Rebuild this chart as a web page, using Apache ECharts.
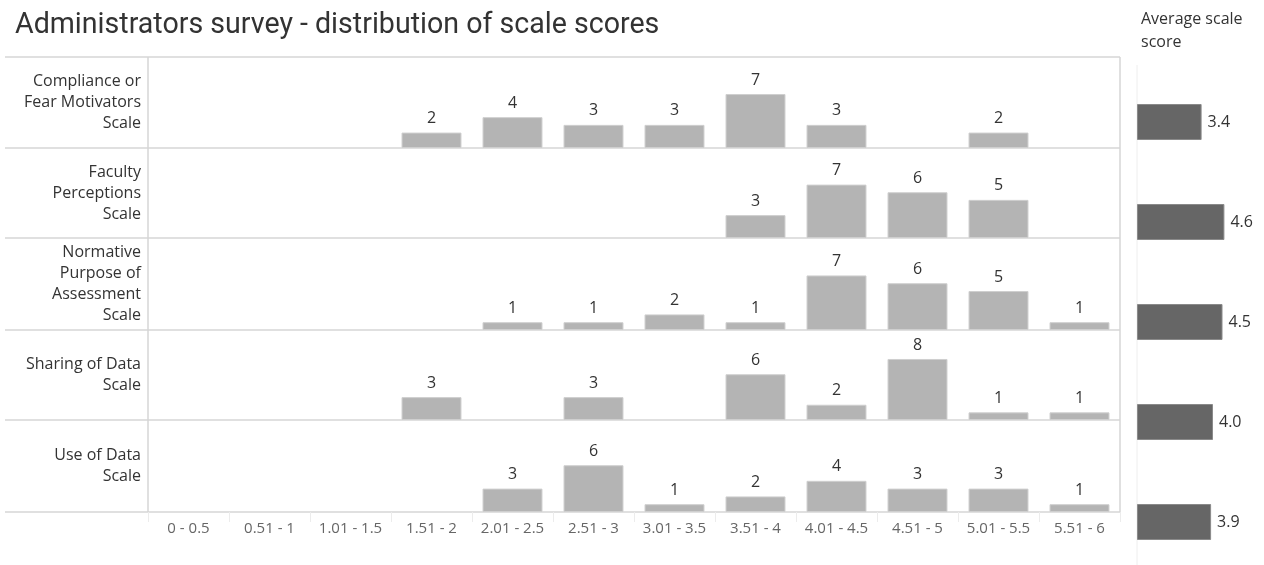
<!DOCTYPE html>
<html>
<head>
<meta charset="utf-8">
<script src="https://cdn.jsdelivr.net/npm/echarts@6/dist/echarts.min.js"></script>
<style>
  html, body { margin: 0; padding: 0; background: #fff; }
  #main { width: 1264px; height: 565px; }
</style>
</head>
<body>
<div id="main"></div>
<script>
var categories = ['0 - 0.5', '0.51 - 1', '1.01 - 1.5', '1.51 - 2', '2.01 - 2.5', '2.51 - 3',
  '3.01 - 3.5', '3.51 - 4', '4.01 - 4.5', '4.51 - 5', '5.01 - 5.5', '5.51 - 6'];

var scales = ['Compliance or\nFear Motivators\nScale', 'Faculty\nPerceptions\nScale',
  'Normative\nPurpose of\nAssessment\nScale', 'Sharing of Data\nScale', 'Use of Data\nScale'];

var compliance = [null, null, null, 2, 4, 3, 3, 7, 3, null, 2, null];
var faculty = [null, null, null, null, null, null, null, 3, 7, 6, 5, null];
var normative = [null, null, null, null, 1, 1, 2, 1, 7, 6, 5, 1];
var sharing = [null, null, null, 3, null, 3, null, 6, 2, 8, 1, 1];
var useOfData = [null, null, null, null, 3, 6, 1, 2, 4, 3, 3, 1];

var averages = [3.4, 4.6, 4.5, 4.0, 3.9];

var rows = [compliance, faculty, normative, sharing, useOfData];
var rowTops = [57, 148, 238, 330, 420];
var rowBottoms = [148, 238, 330, 420, 512];

var font = "'Open Sans', 'Noto Sans', sans-serif";
var lineColor = '#d6d6d6';

var chart = echarts.init(document.getElementById('main'));

var grids = [], xAxes = [], yAxes = [], series = [], graphics = [];

rows.forEach(function (vals, i) {
  grids.push({ left: 148, width: 972, top: rowTops[i], height: rowBottoms[i] - rowTops[i] });
  xAxes.push({
    type: 'category',
    gridIndex: i,
    data: categories,
    axisLine: { show: false },
    axisTick: i === 4 ? { show: true, length: 10, lineStyle: { color: '#ececec' } } : { show: false },
    axisLabel: i === 4 ? { color: '#666', fontSize: 15, fontFamily: font, margin: 9, interval: 0 } : { show: false },
    splitLine: { show: false }
  });
  yAxes.push({ type: 'value', gridIndex: i, min: 0, max: 11.8, show: false });
  series.push({
    type: 'bar',
    xAxisIndex: i,
    yAxisIndex: i,
    data: vals,
    barCategoryGap: '26%',
    itemStyle: { color: '#b4b4b4', borderColor: '#cfcfcf', borderWidth: 1 },
    label: { show: true, position: 'top', distance: 6, color: '#333', fontSize: 16, fontFamily: font },
    silent: true
  });
  graphics.push({
    type: 'text',
    x: 141,
    y: (rowTops[i] + rowBottoms[i]) / 2,
    style: {
      text: scales[i],
      fill: '#333',
      font: '16px ' + font,
      align: 'right',
      verticalAlign: 'middle',
      lineHeight: 21
    }
  });
});

// separators between the rows
[57, 148, 238, 330, 420, 512].forEach(function (y) {
  graphics.push({
    type: 'line',
    shape: { x1: 5, y1: y, x2: 1120, y2: y },
    style: { stroke: lineColor, lineWidth: 1.5 }
  });
});
graphics.push({ type: 'line', shape: { x1: 148, y1: 57, x2: 148, y2: 512 }, style: { stroke: lineColor, lineWidth: 1.5 } });
graphics.push({ type: 'line', shape: { x1: 1120, y1: 57, x2: 1120, y2: 512 }, style: { stroke: lineColor, lineWidth: 1.5 } });

// average panel (runs past the bottom edge like the original)
grids.push({ left: 1137, width: 114, top: 72, height: 500, outerBoundsMode: 'none' });
xAxes.push({ type: 'value', gridIndex: 5, min: 0, max: 6, show: false });
yAxes.push({
  type: 'category',
  gridIndex: 5,
  inverse: true,
  data: scales,
  axisLabel: { show: false },
  axisTick: { show: false },
  axisLine: { show: false }
});
series.push({
  type: 'bar',
  xAxisIndex: 5,
  yAxisIndex: 5,
  data: averages,
  barWidth: 36,
  itemStyle: { color: '#666666', borderColor: '#8a8a8a', borderWidth: 1 },
  label: {
    show: true, position: 'right', distance: 6, color: '#333', fontSize: 16, fontFamily: font,
    formatter: function (p) { return p.value.toFixed(1); }
  },
  silent: true
});
graphics.push({ type: 'line', shape: { x1: 1137, y1: 65, x2: 1137, y2: 565 }, style: { stroke: '#eeeeee', lineWidth: 1 } });

chart.setOption({
  backgroundColor: '#ffffff',
  animation: false,
  title: [{
    text: 'Administrators survey - distribution of scale scores',
    left: 10,
    top: 6,
    textStyle: { color: '#333', fontSize: 28.6, fontWeight: 'normal', fontFamily: "'Roboto', sans-serif" }
  }, {
    text: 'Average scale\nscore',
    left: 1136,
    top: 3,
    textStyle: { color: '#333', fontSize: 16, fontWeight: 'normal', fontFamily: font, lineHeight: 23 }
  }],
  grid: grids,
  xAxis: xAxes,
  yAxis: yAxes,
  series: series,
  graphic: graphics
});
</script>
</body>
</html>
